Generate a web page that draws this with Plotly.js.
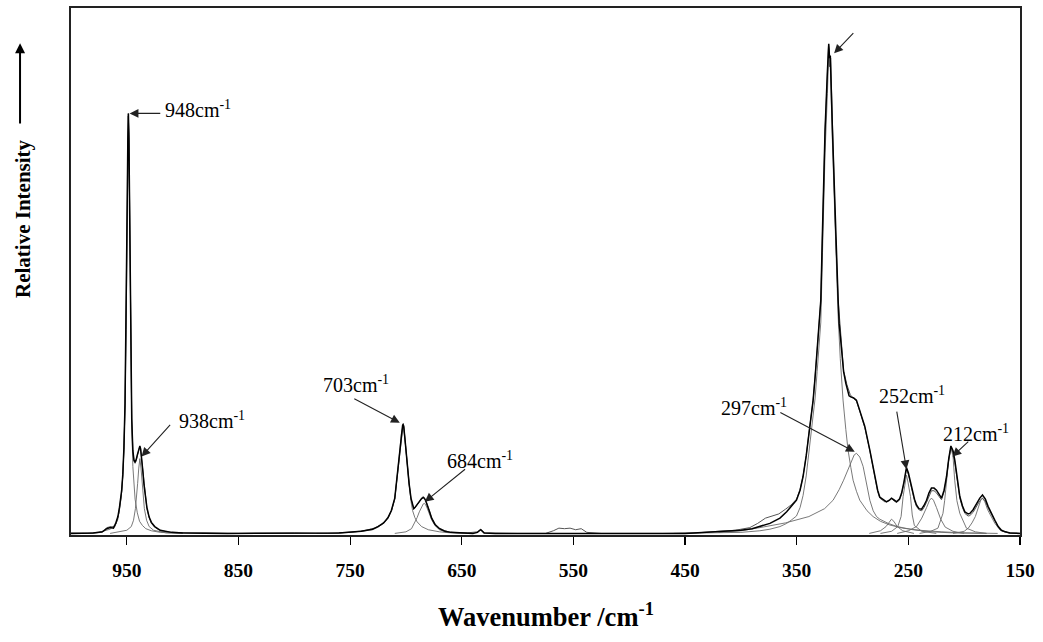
<!DOCTYPE html>
<html>
<head>
<meta charset="utf-8">
<script src="https://cdn.plot.ly/plotly-3.0.1.min.js"></script>
<style>html,body{margin:0;padding:0;background:#fff;}#chart{width:1043px;height:642px;}</style>
</head>
<body>
<div id="chart"></div>
<script>
// ---- DATA (wavenumber /cm-1, relative intensity) ----
const xTicks = [950, 850, 750, 650, 550, 450, 350, 250, 150];

// fitted envelope
const fitCurve = [[1000,0.3],[990,0.3],[980,0.4],[972,0.6],[968,1.2],[965,1.4],[962,1.3],[960,2.2],[958,3.5],[956.6,5.2],[954.6,8.5],[953.6,11.5],[952.6,16.5],[951.6,25],[950.6,40],[950.1,51],[949.6,64],[949.1,75],[948.6,80],[948.1,75],[947.6,64],[947.1,51],[946.6,38],[945.6,22],[944.6,16],[943.6,14.2],[942.6,13.8],[941.6,14.3],[940.6,15.2],[939.6,16.2],[938.8,16.8],[938.3,16.9],[937.6,16.3],[936.6,14.5],[935.6,12],[934.6,9.5],[933.3,7],[932,5.2],[930,3.4],[928,2.4],[925,1.6],[920,0.9],[910,0.5],[900,0.4],[860,0.3],[780,0.3],[760,0.4],[740,0.7],[730,1.1],[725,1.6],[720,2.3],[716,3.3],[713,4.7],[710,7.0],[708.5,9.8],[707,13],[705.5,16.1],[704,19.5],[703,20.8],[702.5,21],[702,20.6],[701,18.5],[700,16],[699,13.5],[697.2,9.8],[695.5,7.0],[694,5.4],[693,5.0],[692,5.2],[690,5.8],[688,6.4],[686,6.9],[684.5,7.1],[683.7,7.0],[682.5,6.6],[681,5.8],[679,4.5],[677,3.2],[674,2.0],[670,1.2],[665,0.7],[660,0.5],[650,0.4],[640,0.3],[636,0.5],[633,1.0],[630,0.4],[620,0.3],[450,0.3],[430,0.5],[412,0.7],[400,0.9],[390,1.2],[383,1.6],[374,2.2],[365,3.2],[359,4.4],[355,5.4],[350.2,6.6],[347,8.5],[344.3,11.1],[341.5,15],[339.1,19.3],[337,22.5],[335.3,25.6],[333.5,30],[331.7,35.1],[330,40],[328.4,44.6],[326.9,57.9],[324.6,76.9],[322.5,88],[321.3,93.2],[320.6,90.5],[319.9,91],[318,76.9],[315.3,57.9],[312.9,44.6],[312,40.2],[309.9,35.1],[308,31],[306,28.8],[303.1,26.4],[301.6,26.2],[299,26],[296.5,25.6],[293.5,23.7],[289,20.6],[284.5,16.1],[280,11.1],[277.5,8.5],[275.6,7.2],[271.1,6.4],[269.6,6.3],[267,6.6],[265.1,7.0],[262.5,6.6],[260.6,6.3],[258,6.8],[256.1,7.9],[254,10],[251.7,12.8],[250,11.8],[247.2,9.2],[244.5,6.8],[242.7,5.7],[240.5,5.0],[238.2,4.9],[236,5.6],[233.7,6.6],[231.5,8.0],[229.3,8.9],[227,8.9],[224.8,8.5],[222.5,7.8],[220.3,7.0],[218,8.5],[215.8,11.1],[213.8,14.5],[211.9,16.9],[210,16],[208.4,14.2],[206,10.5],[203.9,7.3],[201.5,5.5],[199.4,4.4],[196.5,4.0],[194.9,4.1],[192,4.8],[188.9,6.0],[186,7.0],[183.6,7.6],[181,6.8],[178.5,5.4],[175.5,4.0],[172.5,2.8],[169.5,1.6],[166.6,0.9],[163,0.6],[159.1,0.4],[150,0.3]];

// experimental spectrum
const expCurve = [[1000,0.4],[985,0.3],[972,0.5],[968,1.4],[964,1.6],[961,1.5],[959,2.6],[957,4.2],[955,7.2],[953.6,11.3],[952.6,16.3],[951.6,24.5],[950.6,39],[949.6,63],[949.1,74],[948.7,79.5],[948.1,76],[947.6,63],[947.1,50],[946.6,37],[945.6,22],[944.6,16],[943.6,14],[942.6,13.6],[941.6,14.1],[940.6,15],[939.6,16.1],[938.6,16.7],[937.8,16.5],[936.6,14.2],[935.6,11.8],[934.6,9.2],[933.3,6.8],[932,5.0],[930,3.3],[928,2.2],[925,1.5],[920,0.8],[910,0.5],[880,0.4],[850,0.3],[800,0.4],[770,0.3],[750,0.5],[738,0.8],[728,1.3],[722,2.0],[717,3.0],[713,4.6],[710,6.9],[708.5,9.7],[707,12.9],[705.5,16],[704,19.4],[703,20.9],[702.4,21.2],[701.8,20.4],[701,18.3],[700,15.8],[699,13.3],[697.2,9.6],[695.5,6.9],[694,5.3],[693,4.9],[692,5.1],[690,5.6],[688,6.3],[686,6.9],[684.8,7.3],[683.7,7.1],[682.5,6.7],[681,5.9],[679,4.6],[677,3.3],[674,2.1],[670,1.3],[665,0.8],[660,0.5],[645,0.4],[636,0.6],[633,1.1],[630,0.4],[600,0.3],[575,0.3],[568,0.8],[563,1.3],[558,1.2],[553,1.3],[548,1.0],[543,1.2],[538,0.5],[525,0.3],[470,0.3],[440,0.4],[420,0.7],[405,0.9],[392,1.4],[385,2.2],[378,3.2],[372,3.6],[366,4.0],[360,4.9],[355,5.7],[350.2,6.8],[347,8.6],[344.3,11.2],[341.5,15],[339.1,19.3],[335.3,25.5],[331.7,35],[328.4,44.5],[326.9,57.5],[324.6,76.5],[322.5,87.5],[321.5,93],[320.8,92],[320.2,89],[319.6,90.5],[318,77],[315.3,58],[312.9,44.6],[310,35.5],[308,31.2],[305,28.5],[302,26.6],[299,25.9],[296.5,25.4],[293.5,23.5],[289,20.4],[284.5,16],[280,11],[277.5,8.3],[275.6,7.0],[271.1,6.3],[267,6.5],[265.1,6.9],[262.5,6.4],[260.6,6.2],[258,6.6],[256.1,7.7],[254,9.8],[251.7,12.5],[250,11.5],[247.2,8.9],[244.5,6.5],[242.7,5.4],[240,4.7],[238,4.6],[236,5.2],[233.7,6.2],[231.5,7.5],[229.3,8.4],[227,8.4],[224.8,8.0],[222.5,7.3],[220.3,6.7],[218,8.2],[215.8,10.9],[213.8,14.4],[211.9,16.6],[210,15.6],[208.4,13.8],[206,10.1],[203.9,7.0],[201.5,5.2],[199.4,4.1],[196.5,3.6],[194.9,3.7],[192,4.3],[188.9,5.5],[186,6.5],[183.6,7.0],[181,6.4],[178.5,5.1],[175.5,3.8],[172.5,2.6],[169.5,1.5],[166.6,0.8],[163,0.5],[159,0.4],[150,0.3]];

// fitted component bands
const band948 = [[990,0.3],[975,0.5],[965,1.1],[960,2.0],[958,3.0],[956.6,4.8],[954.6,8.2],[953.6,11.2],[952.6,16.2],[951.6,24.8],[950.6,40],[950.1,51],[949.6,64],[949.1,75],[948.6,80],[948.1,75],[947.6,64],[947.1,51],[946.6,38],[945.6,21],[944.6,13],[943.6,9.0],[942.6,6.8],[940.6,4.2],[938.6,2.6],[936,1.8],[933,1.2],[928,0.8],[920,0.5],[900,0.3]];
const band938 = [[965,0.3],[950,0.9],[946,1.6],[944,2.8],[942.3,5.0],[941.3,7.0],[940.3,9.8],[939.3,12.7],[938.3,14.5],[937.3,12.7],[936.3,9.8],[935.3,7.0],[934.3,5.0],[932.3,2.8],[930,1.6],[926,0.9],[915,0.4],[900,0.3]];
const band703 = [[780,0.3],[760,0.4],[740,0.7],[730,1.0],[725,1.5],[720,2.2],[716,3.2],[713,4.5],[710,6.8],[708.5,9.6],[707,12.8],[705.5,16],[704,19.4],[703,20.7],[702.5,20.9],[702,20.5],[701,18.4],[700,15.8],[699,13.2],[697.2,9.4],[695.5,6.4],[694,4.6],[692,3.3],[690,2.5],[686,1.6],[680,1.0],[670,0.6],[660,0.4],[640,0.3]];
const band684 = [[710,0.3],[700,0.6],[695,1.2],[692,2.3],[690,3.3],[688,4.4],[686,5.4],[684.5,5.9],[683.7,6.0],[682.5,5.8],[681,5.1],[679,4.0],[677,2.9],[674,1.8],[670,1.0],[665,0.6],[655,0.4],[640,0.3]];
const band322 = [[460,0.3],[430,0.4],[400,0.5],[383,0.8],[374,1.1],[365,1.6],[359,2.2],[355,2.8],[350.2,3.6],[347,5.2],[344.3,7.5],[341.5,11.2],[339.1,15.6],[337,18.7],[335.3,21.8],[333.5,26],[331.7,31],[330,35.8],[328.4,40.4],[326.9,53.6],[324.6,72.5],[322.5,83.8],[321.3,91.5],[320.6,88.8],[319.9,89.2],[318,74.5],[315.3,55],[312.9,41.5],[311,33.5],[309.5,28],[308.5,25.6],[306,20],[304,16.1],[301.5,12.8],[299.5,10.4],[296.5,8.3],[293.5,6.6],[287,4.6],[281.6,3.5],[275,2.6],[266.6,1.9],[255,1.3],[240,0.9],[220,0.6],[200,0.4],[170,0.3]];
const band297 = [[420,0.5],[400,0.8],[383,1.4],[360,2.3],[339.1,3.5],[325,5.0],[317.4,6.6],[312,8.6],[308,10.4],[305.4,11.7],[301,14.2],[298.5,15.2],[296.5,15.5],[293.5,14.8],[290.5,13.0],[287.5,9.8],[284.5,6.6],[281.5,4.6],[278.5,3.5],[275.6,3.0],[268,2.2],[260,1.6],[246,1.0],[230,0.6],[210,0.4],[180,0.3]];
const band265 = [[285,0.3],[275,0.8],[270,1.6],[267,2.5],[265.1,3.0],[263,2.6],[260,1.6],[255,0.8],[245,0.3]];
const band252 = [[275,0.3],[265,0.7],[259.5,1.6],[256.5,3.5],[254.7,7.3],[253,10],[251.7,11.4],[250.3,10],[248.1,7.3],[246.5,3.8],[244.6,1.8],[238,0.7],[225,0.3]];
const band230 = [[260,0.3],[250,0.8],[242.7,1.6],[238,3.2],[233.7,5.2],[231,6.6],[229.3,7.0],[227.5,6.6],[224.8,5.2],[221,3.0],[217,1.5],[210,0.7],[200,0.3]];
const band212 = [[240,0.3],[230,0.7],[223.5,1.3],[219,4.1],[217.5,6.5],[215.8,10.5],[214,14],[211.9,16.5],[210,15],[208.5,10.4],[206.5,6.5],[203.9,4.1],[198,1.3],[190,0.6],[180,0.3]];
const band185 = [[210,0.3],[200,0.7],[196.3,1.3],[193,2.3],[190,3.5],[187,5.5],[185,6.7],[183.6,7.0],[181.5,6.3],[179,4.8],[177.3,4.1],[175,3.1],[172.5,2.2],[167.7,0.9],[160,0.4],[150,0.3]];

// peak labels: [text anchor x, text y, arrow head x, head y, arrow tail x, tail y, label]
const peakLabels = [
  [917.5, 80.8, 947.5, 80.0, 918.7, 80.0, '948cm<sup>-1</sup>'],
  [905.5, 21.8, 936.8, 14.9, 910.0, 21.2, '938cm<sup>-1</sup>'],
  [776.0, 28.7, 705.5, 21.3, 747.6, 26.0, '703cm<sup>-1</sup>'],
  [665.2, 14.2, 683.1, 6.3, 645.7, 12.7, '684cm<sup>-1</sup>'],
  [419.5, 24.3, 298.0, 15.8, 366.0, 23.4, '297cm<sup>-1</sup>'],
  [278.0, 26.6, 251.7, 12.5, 260.6, 23.7, '252cm<sup>-1</sup>'],
  [220.5, 19.4, 210.5, 14.9, 195.0, 18.0, '212cm<sup>-1</sup>']
];
const topArrow = [316.5, 91.4, 298.0, 95.5];

// ---- BUILD ----
function tr(pairs, color, width) {
  return {x: pairs.map(p => p[0]), y: pairs.map(p => p[1]), type: 'scatter', mode: 'lines',
          line: {color: color, width: width, shape: 'linear'}, hoverinfo: 'skip'};
}
const compColor = '#6a6a6a';
const data = [
  tr(band948, compColor, 0.9), tr(band938, compColor, 0.9), tr(band703, compColor, 0.9),
  tr(band684, compColor, 0.9), tr(band322, compColor, 0.9), tr(band297, compColor, 0.9),
  tr(band265, compColor, 0.9), tr(band252, compColor, 0.9), tr(band230, compColor, 0.9),
  tr(band212, compColor, 0.9), tr(band185, compColor, 0.9),
  tr(expCurve, '#555555', 1.0),
  tr(fitCurve, '#000000', 1.5)
];

const serif = 'Liberation Serif, Times New Roman, serif';
const annotations = [];
peakLabels.forEach(p => {
  annotations.push({x: p[0], y: p[1], xref: 'x', yref: 'y', text: p[6], showarrow: false,
    xanchor: 'left', yanchor: 'middle', font: {family: serif, size: 20, color: '#000'}});
  annotations.push({x: p[2], y: p[3], ax: p[4], ay: p[5], xref: 'x', yref: 'y', axref: 'x', ayref: 'y',
    text: '', showarrow: true, arrowhead: 2, arrowsize: 1.6, arrowwidth: 1.1, arrowcolor: '#222', standoff: 0});
});
annotations.push({x: topArrow[0], y: topArrow[1], ax: topArrow[2], ay: topArrow[3], xref: 'x', yref: 'y',
  axref: 'x', ayref: 'y', text: '', showarrow: true, arrowhead: 2, arrowsize: 1.6, arrowwidth: 1.1, arrowcolor: '#222', standoff: 0});
// axis titles
annotations.push({xref: 'paper', yref: 'paper', x: -0.0506, y: 0.6015, text: 'Relative Intensity', textangle: -90,
  showarrow: false, xanchor: 'center', yanchor: 'middle', font: {family: serif, size: 21, color: '#000', weight: 'bold'}});
annotations.push({xref: 'paper', yref: 'paper', x: -0.0537, y: 0.933, ax: -0.0537, ay: 0.778, axref: 'paper', ayref: 'paper',
  text: '', showarrow: true, arrowhead: 2, arrowsize: 1.0, arrowwidth: 2, arrowcolor: '#000', standoff: 0});
annotations.push({xref: 'paper', yref: 'paper', x: 0.5, y: -0.152, text: '<b>Wavenumber /cm<sup>-1</sup></b>',
  showarrow: false, xanchor: 'center', yanchor: 'middle', font: {family: serif, size: 26.5, color: '#000'}});

const layout = {
  width: 1043, height: 642,
  margin: {l: 71, r: 23, t: 8, b: 107},
  paper_bgcolor: '#fff', plot_bgcolor: '#fff',
  showlegend: false,
  xaxis: {range: [1000, 150], tickvals: xTicks, ticktext: xTicks.map(String), ticks: 'outside', ticklen: 8,
    tickwidth: 1.2, tickcolor: '#000', showgrid: false, zeroline: false, showline: true, mirror: true,
    linecolor: '#222', linewidth: 1.6, ticklabelstandoff: 9,
    tickfont: {family: serif, size: 19.5, color: '#000', weight: 'bold'}},
  yaxis: {range: [0, 100], showticklabels: false, ticks: '', showgrid: false, zeroline: false,
    showline: true, mirror: true, linecolor: '#222', linewidth: 1.6},
  annotations: annotations
};
Plotly.newPlot('chart', data, layout, {displayModeBar: false, staticPlot: true});
</script>
</body>
</html>
